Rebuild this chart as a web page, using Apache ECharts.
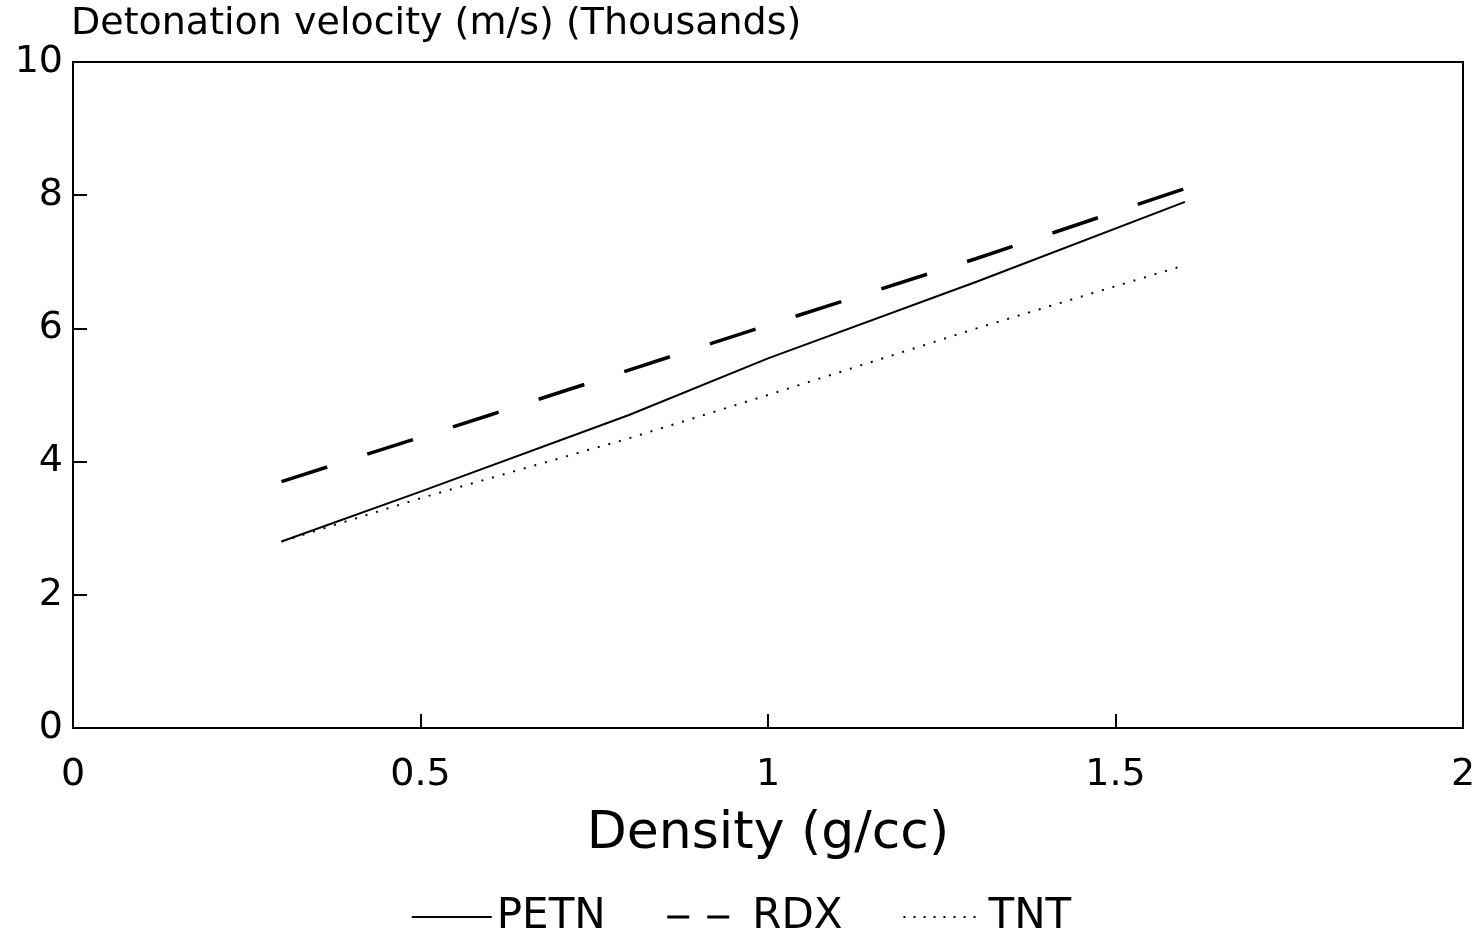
<!DOCTYPE html>
<html>
<head>
<meta charset="utf-8">
<script src="https://cdn.jsdelivr.net/npm/echarts@6/dist/echarts.min.js"></script>
<style>
  html, body { margin: 0; padding: 0; background: #fff; }
  #chart { width: 1482px; height: 943px; }
</style>
</head>
<body>
<div id="chart"></div>
<script>
// density (g/cc) -> detonation velocity (thousands m/s)
const petnData = [[0.3, 2.8], [0.5, 3.55], [0.8, 4.7], [1.0, 5.55], [1.3, 6.7], [1.6, 7.9]];
const rdxData = [[0.3, 3.7], [0.6, 4.7], [1.0, 6.05], [1.3, 7.05], [1.6, 8.1]];
const tntData = [[0.3, 2.8], [0.5, 3.45], [0.8, 4.35], [1.0, 5.0], [1.3, 6.0], [1.6, 6.95]];
const seriesNames = ['PETN', 'RDX', 'TNT'];

const chart = echarts.init(document.getElementById('chart'));
const fontFamily = 'DejaVu Sans';
const ink = '#000';

const option = {
  animation: false,
  textStyle: { fontFamily: fontFamily, color: ink },
  title: {
    text: 'Detonation velocity (m/s) (Thousands)',
    left: 66,
    top: 0,
    textStyle: { fontFamily: fontFamily, fontSize: 38, fontWeight: 'normal', color: ink },
  },
  grid: {
    left: 73,
    right: 19,
    top: 62,
    bottom: 215,
    show: true,
    borderColor: ink,
    borderWidth: 2,
  },
  legend: {
    bottom: 0,
    left: 'center',
    itemWidth: 80,
    itemHeight: 14,
    itemGap: 60,
    itemStyle: { opacity: 0 },
    textStyle: { fontFamily: fontFamily, fontSize: 42, color: ink },
    data: [
      { name: seriesNames[0], lineStyle: { width: 2, type: 'solid' } },
      { name: seriesNames[1], lineStyle: { width: 3, type: [22, 18] } },
      { name: seriesNames[2], lineStyle: { width: 2, type: [2, 8] } },
    ],
  },
  xAxis: {
    type: 'value',
    min: 0,
    max: 2,
    interval: 0.5,
    name: 'Density (g/cc)',
    nameLocation: 'middle',
    nameGap: 80,
    nameTextStyle: { fontFamily: fontFamily, fontSize: 52, color: ink },
    axisLine: { show: true, lineStyle: { color: ink, width: 2 } },
    axisTick: { show: true, inside: true, length: 14, lineStyle: { color: ink, width: 2 } },
    axisLabel: { fontSize: 38, color: ink, margin: 28 },
    splitLine: { show: false },
  },
  yAxis: {
    type: 'value',
    min: 0,
    max: 10,
    interval: 2,
    axisLine: { show: true, lineStyle: { color: ink, width: 2 } },
    axisTick: { show: true, inside: true, length: 14, lineStyle: { color: ink, width: 2 } },
    axisLabel: { fontSize: 38, color: ink, margin: 10 },
    splitLine: { show: false },
  },
  series: [
    {
      name: 'PETN',
      type: 'line',
      data: petnData,
      symbol: 'none',
      lineStyle: { color: ink, width: 2, type: 'solid' },
      itemStyle: { color: ink },
    },
    {
      name: 'RDX',
      type: 'line',
      data: rdxData,
      symbol: 'none',
      lineStyle: { color: ink, width: 3.5, type: [48, 42] },
      itemStyle: { color: ink },
    },
    {
      name: 'TNT',
      type: 'line',
      data: tntData,
      symbol: 'none',
      lineStyle: { color: ink, width: 2, type: [2, 9] },
      itemStyle: { color: ink },
    },
  ],
};

chart.setOption(option);
</script>
</body>
</html>
